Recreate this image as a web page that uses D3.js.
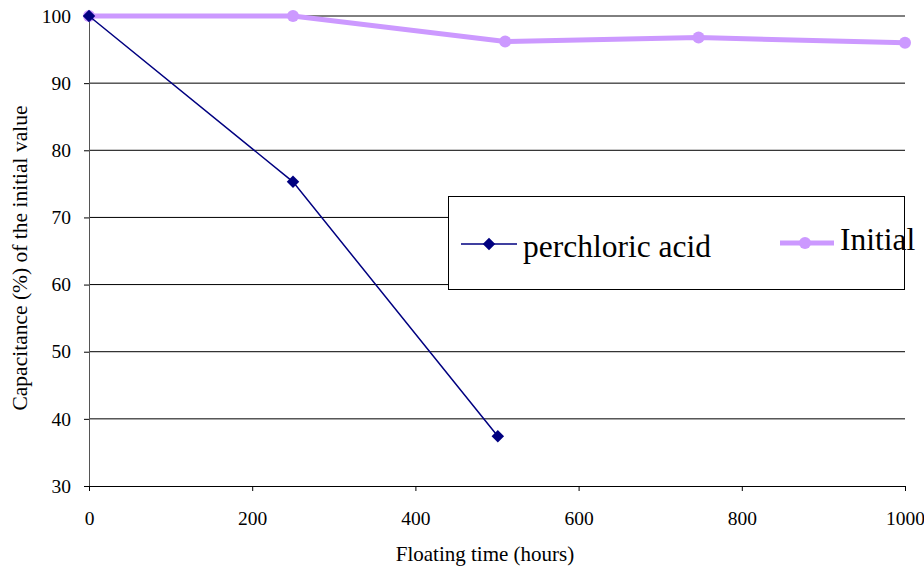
<!DOCTYPE html>
<html>
<head>
<meta charset="utf-8">
<script src="https://cdn.jsdelivr.net/npm/d3@7"></script>
<style>
  body { margin: 0; background: #fff; }
  svg text { font-family: "Liberation Serif", "Times New Roman", serif; fill: #000; }
</style>
</head>
<body>
<svg id="chart" width="924" height="573"></svg>
<script>
var initialX = [0, 250, 510, 747, 1000];
var initialY = [100, 100, 96.2, 96.8, 96.0];
var acidX = [0, 250, 501];
var acidY = [100, 75.3, 37.4];
var xTicks = [0, 200, 400, 600, 800, 1000];
var yTicks = [30, 40, 50, 60, 70, 80, 90, 100];

var svg = d3.select("#chart");
var margin = { top: 16, right: 19, bottom: 87, left: 89 };
var width = +svg.attr("width") - margin.left - margin.right;
var height = +svg.attr("height") - margin.top - margin.bottom;
var g = svg.append("g")
    .attr("transform", "translate(" + margin.left + "," + margin.top + ")");

var x = d3.scaleLinear().domain([0, 1000]).range([0, width]);
var y = d3.scaleLinear().domain([30, 100]).range([height, 0]);

// gridlines
g.selectAll(".grid")
    .data(yTicks.slice(1))
    .enter().append("line")
    .attr("x1", 0).attr("x2", width)
    .attr("y1", function (d) { return y(d); })
    .attr("y2", function (d) { return y(d); })
    .attr("stroke", "#000").attr("stroke-width", 1);

// y axis
var yAxis = g.append("g")
    .call(d3.axisLeft(y).tickValues(yTicks).tickSize(5).tickPadding(13).tickFormat(d3.format("d")));
yAxis.attr("font-family", null);
yAxis.select(".domain").attr("stroke", "#555");
yAxis.selectAll("text")
    .style("font-family", "'Liberation Serif', serif")
    .style("font-size", "19.5px");

// x axis
var xAxis = g.append("g")
    .attr("transform", "translate(0," + height + ")")
    .call(d3.axisBottom(x).tickValues(xTicks).tickSize(5).tickPadding(20).tickFormat(d3.format("d")));
xAxis.attr("font-family", null);
xAxis.select(".domain").attr("stroke", "#000");
xAxis.selectAll("text")
    .style("font-family", "'Liberation Serif', serif")
    .style("font-size", "19.5px");

svg.append("text")
    .attr("x", 485)
    .attr("y", 561)
    .attr("text-anchor", "middle")
    .style("font-size", "21px")
    .text("Floating time (hours)");

svg.append("text")
    .attr("transform", "translate(27,258) rotate(-90)")
    .attr("text-anchor", "middle")
    .style("font-size", "21.5px")
    .text("Capacitance (%) of the initial value");

// series
var initialData = initialX.map(function (d, i) { return [d, initialY[i]]; });
var acidData = acidX.map(function (d, i) { return [d, acidY[i]]; });
var line = d3.line()
    .x(function (d) { return x(d[0]); })
    .y(function (d) { return y(d[1]); });

g.append("path").datum(initialData)
    .attr("d", line).attr("fill", "none")
    .attr("stroke", "#CC99FF").attr("stroke-width", 5);
g.selectAll(".ini")
    .data(initialData)
    .enter().append("circle")
    .attr("cx", function (d) { return x(d[0]); })
    .attr("cy", function (d) { return y(d[1]); })
    .attr("r", 6).attr("fill", "#CC99FF");

g.append("path").datum(acidData)
    .attr("d", line).attr("fill", "none")
    .attr("stroke", "#000080").attr("stroke-width", 1.5);
var diamond = d3.symbol().type(d3.symbolDiamond2).size(100);
g.selectAll(".acid")
    .data(acidData)
    .enter().append("path")
    .attr("d", diamond)
    .attr("transform", function (d) { return "translate(" + x(d[0]) + "," + y(d[1]) + ")"; })
    .attr("fill", "#000080");

// legend
var leg = svg.append("g");
leg.append("rect")
    .attr("x", 448.5).attr("y", 196.5)
    .attr("width", 456).attr("height", 93)
    .attr("fill", "#fff").attr("stroke", "#000").attr("stroke-width", 1);
leg.append("line")
    .attr("x1", 461).attr("x2", 517).attr("y1", 244).attr("y2", 244)
    .attr("stroke", "#000080").attr("stroke-width", 1.5);
leg.append("path")
    .attr("d", diamond)
    .attr("transform", "translate(489,244)")
    .attr("fill", "#000080");
leg.append("text")
    .attr("x", 523).attr("y", 257)
    .style("font-size", "31.5px")
    .text("perchloric acid");
leg.append("line")
    .attr("x1", 780).attr("x2", 834).attr("y1", 243).attr("y2", 243)
    .attr("stroke", "#CC99FF").attr("stroke-width", 5);
leg.append("circle")
    .attr("cx", 805).attr("cy", 243).attr("r", 6).attr("fill", "#CC99FF");
leg.append("text")
    .attr("x", 840).attr("y", 250)
    .style("font-size", "31.5px")
    .text("Initial");
</script>
</body>
</html>
